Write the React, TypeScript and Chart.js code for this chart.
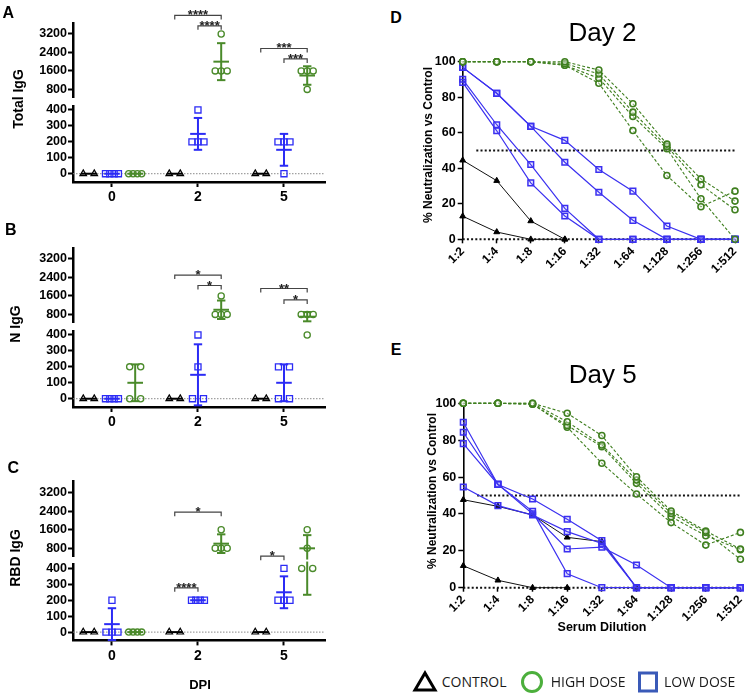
import React, { useEffect, useRef } from 'react';
import { Chart, registerables } from 'chart.js';
Chart.register(...registerables);

const FONT = "'Liberation Sans', Arial, Helvetica, sans-serif";
const BLUE = '#2b2bf5';
const GREEN = '#4a8a2a';
const LINE_BLUE = '#3b30f0';
const LINE_GREEN = '#3f7f1f';

// ---------- Panels A-C data ----------
const DPI_LABELS = ['0', '2', '5'];
const UPPER_TICKS = [800, 1600, 2400, 3200];
const LOWER_TICKS = [0, 100, 200, 300, 400];

const totalIgGControl = [[0, 0], [0, 0], [0, 0]];
const totalIgGLow = [[0, 0, 0, 0], [400, 200, 200, 200], [200, 200, 200, 0]];
const totalIgGHigh = [[0, 0, 0, 0], [3200, 1600, 1600, 1600], [1600, 1600, 1600, 800]];

const nIgGControl = [[0, 0], [0, 0], [0, 0]];
const nIgGLow = [[0, 0, 0, 0], [400, 200, 0, 0], [200, 200, 0, 0]];
const nIgGHigh = [[200, 200, 0, 0], [1600, 800, 800, 800], [800, 800, 800, 400]];

const rbdIgGControl = [[0, 0], [0, 0], [0, 0]];
const rbdIgGLow = [[200, 0, 0, 0], [200, 200, 200, 200], [400, 200, 200, 200]];
const rbdIgGHigh = [[0, 0, 0, 0], [1600, 800, 800, 800], [1600, 800, 400, 400]];

type Sub = 'control' | 'low' | 'high';
type Bracket = { day: number; from: Sub; to: Sub; y: number; label: string };

const totalIgGBrackets: Bracket[] = [
  { day: 1, from: 'control', to: 'high', y: 4000, label: '****' },
  { day: 1, from: 'low', to: 'high', y: 3550, label: '****' },
  { day: 2, from: 'control', to: 'high', y: 2570, label: '***' },
  { day: 2, from: 'low', to: 'high', y: 2120, label: '***' },
];
const nIgGBrackets: Bracket[] = [
  { day: 1, from: 'control', to: 'high', y: 2500, label: '*' },
  { day: 1, from: 'low', to: 'high', y: 2050, label: '*' },
  { day: 2, from: 'control', to: 'high', y: 1920, label: '**' },
  { day: 2, from: 'low', to: 'high', y: 1425, label: '*' },
];
const rbdIgGBrackets: Bracket[] = [
  { day: 1, from: 'control', to: 'high', y: 2350, label: '*' },
  { day: 1, from: 'control', to: 'low', y: 278, label: '****' },
  { day: 2, from: 'control', to: 'low', y: 463, label: '*' },
];

// ---------- Panels D-E data ----------
const DILUTIONS = ['1:2', '1:4', '1:8', '1:16', '1:32', '1:64', '1:128', '1:256', '1:512'];
const NEUT_TICKS = [0, 20, 40, 60, 80, 100];
const REF_LINES = [{ y: 0, from: 0 }, { y: 50, from: 0.4 }];

const day2Control = [
  [44.5, 33, 10.3, 0],
  [13, 4.1, 0, 0],
];
const day2Low = [
  [96.8, 82.2, 63.6, 55.7, 39.3, 27.1, 7.5, 0, 0],
  [96.8, 82.2, 63.6, 43.4, 26.5, 10.7, 0, 0, 0],
  [90.1, 64.5, 42.1, 17.4, 0, 0, 0, 0, 0],
  [88.4, 61.1, 31.8, 13.1, 0, 0, 0, 0, 0],
];
const day2High = [
  [100, 100, 100, 100, 95.3, 76.3, 53.6, 34, 21.5],
  [100, 100, 100, 99, 93.1, 71.6, 52.3, 30.7, 16.6],
  [100, 100, 100, 98, 90.7, 69.2, 51, 22.8, 0],
  [100, 100, 100, 98, 87.9, 61.3, 35.9, 18.3, 27.1],
];

const day5Control = [
  [47.7, 44.1, 39.5, 27.3, 25, 0],
  [11.9, 4, 0, 0],
];
const day5Low = [
  [89.7, 56, 41.4, 7.6, 0, 0, 0, 0, 0],
  [84.3, 56, 40.1, 21, 22, 12.3, 0, 0, 0],
  [78.1, 56, 48.1, 37.1, 25.5, 0, 0, 0, 0],
  [54.6, 44.5, 39.4, 30.4, 24, 0, 0, 0, 0],
];
const day5High = [
  [100, 100, 100, 94.6, 82.5, 60.2, 41.6, 30.7, 21],
  [100, 100, 100, 90, 77.4, 58.4, 40.3, 30, 15.4],
  [100, 100, 99.5, 88, 76.5, 56.6, 38.5, 28.2, 20.6],
  [100, 100, 99.5, 87, 67.5, 50.8, 35.3, 23.1, 30],
];

// ---------- layout constants ----------
const AC = {
  canvasW: 340, axisLeft: 73, right: 325, upperH: 77, gap: 5.7, lowerH: 76, xH: 26,
  xMin: -0.453, xMax: 2.477, upperMin: 440, upperMax: 3660, lowerMin: -52, lowerMax: 425,
};
const UNIT_PX = (AC.right - AC.axisLeft) / (AC.xMax - AC.xMin);
const SUB_OFFSET: Record<Sub, number> = { control: -0.27, low: 0, high: 0.27 };
const SPREAD: Record<number, number> = { 1: 0, 2: 11, 3: 6, 4: 4.3 };
const SUBS: Sub[] = ['control', 'low', 'high'];
const SUB_STYLE: Record<Sub, { color: string; pointStyle: string; radius: number; width: number }> = {
  control: { color: '#000000', pointStyle: 'triangle', radius: 3.8, width: 1.2 },
  low: { color: BLUE, pointStyle: 'rect', radius: 4.3, width: 1.3 },
  high: { color: GREEN, pointStyle: 'circle', radius: 3.1, width: 1.3 },
};

function stats(vals: number[]) {
  const n = vals.length;
  const mean = vals.reduce((a, b) => a + b, 0) / n;
  const sd = n > 1 ? Math.sqrt(vals.reduce((a, b) => a + (b - mean) ** 2, 0) / (n - 1)) : 0;
  return { mean, sd };
}

function jitter(vals: number[], day: number, sub: Sub) {
  const counts = new Map<number, number>();
  vals.forEach((v) => counts.set(v, (counts.get(v) || 0) + 1));
  const seen = new Map<number, number>();
  return vals.map((v) => {
    const n = counts.get(v) as number;
    const k = seen.get(v) || 0;
    seen.set(v, k + 1);
    const sp = SPREAD[n] ?? 4;
    const offPx = (k - (n - 1) / 2) * sp;
    return { x: day + SUB_OFFSET[sub] + offPx / UNIT_PX, y: v };
  });
}

interface PanelDef {
  letter: string; yTitle: string;
  control: number[][]; low: number[][]; high: number[][];
  brackets: Bracket[];
  upperTop: number;
  letterPos: [number, number]; titlePos: [number, number];
  dpi?: boolean;
}

const PANELS: PanelDef[] = [
  { letter: 'A', yTitle: 'Total IgG', control: totalIgGControl, low: totalIgGLow, high: totalIgGHigh, brackets: totalIgGBrackets, upperTop: 23.3, letterPos: [8.2, 12.5], titlePos: [18, 99.2] },
  { letter: 'B', yTitle: 'N IgG', control: nIgGControl, low: nIgGLow, high: nIgGHigh, brackets: nIgGBrackets, upperTop: 248.3, letterPos: [10.8, 230], titlePos: [14.5, 324.2] },
  { letter: 'C', yTitle: 'RBD IgG', control: rbdIgGControl, low: rbdIgGLow, high: rbdIgGHigh, brackets: rbdIgGBrackets, upperTop: 481.7, letterPos: [13.3, 468.3], titlePos: [14.5, 558.3], dpi: true },
];

function ChartCanvas({ left, top, width, height, build }: { left: number; top: number; width: number; height: number; build: () => any }) {
  const ref = useRef<HTMLCanvasElement>(null);
  useEffect(() => {
    const chart = new Chart(ref.current as HTMLCanvasElement, build());
    return () => chart.destroy();
  }, []);
  return (
    <canvas ref={ref} width={width} height={height}
      style={{ position: 'absolute', left, top, width, height }} />
  );
}

const tickFont = (size: number) => ({ family: FONT, size, weight: 'bold' as const });

function scatterConfig(p: PanelDef, part: 'upper' | 'lower', padTop: number, padBottom: number) {
  const isUpper = part === 'upper';
  const yMin = isUpper ? AC.upperMin : AC.lowerMin;
  const yMax = isUpper ? AC.upperMax : AC.lowerMax;
  const ticks = isUpper ? UPPER_TICKS : LOWER_TICKS;
  const groups: Record<Sub, number[][]> = { control: p.control, low: p.low, high: p.high };
  const datasets = SUBS.map((sub) => {
    const st = SUB_STYLE[sub];
    const pts = groups[sub]
      .flatMap((vals, day) => jitter(vals, day, sub))
      .filter((pt) => (isUpper ? pt.y > AC.lowerMax : pt.y <= AC.lowerMax));
    return {
      data: pts, pointStyle: st.pointStyle, pointRadius: st.radius,
      pointBorderColor: st.color, pointBackgroundColor: 'rgba(0,0,0,0)',
      pointBorderWidth: st.width, showLine: false, clip: false,
    };
  });
  const half = AC.gap / 2;
  const zeroLine = {
    id: 'zeroLine',
    beforeDatasetsDraw(chart: any) {
      if (isUpper) return;
      const { ctx, chartArea, scales } = chart;
      const y = scales.y.getPixelForValue(0);
      ctx.save();
      ctx.strokeStyle = '#8a8a8a';
      ctx.lineWidth = 1;
      ctx.setLineDash([1.5, 1.5]);
      ctx.beginPath();
      ctx.moveTo(chartArea.left, y);
      ctx.lineTo(chartArea.right, y);
      ctx.stroke();
      ctx.restore();
    },
  };
  const meanSd = {
    id: 'meanSd',
    afterDatasetsDraw(chart: any) {
      const { ctx, chartArea, scales } = chart;
      const xs = scales.x, ys = scales.y;
      ctx.save();
      ctx.lineWidth = 2;
      SUBS.forEach((sub) => {
        ctx.strokeStyle = SUB_STYLE[sub].color;
        groups[sub].forEach((vals, day) => {
          const { mean, sd } = stats(vals);
          const px = xs.getPixelForValue(day + SUB_OFFSET[sub]);
          if (mean >= yMin && mean <= yMax) {
            const py = ys.getPixelForValue(mean);
            ctx.beginPath(); ctx.moveTo(px - 7.8, py); ctx.lineTo(px + 7.8, py); ctx.stroke();
          }
          if (sd > 0) {
            const lo = mean - sd, hi = mean + sd;
            if (Math.max(lo, yMin) < Math.min(hi, yMax)) {
              const yTop = hi > yMax ? chartArea.top - half : ys.getPixelForValue(hi);
              const yBot = lo < yMin ? chartArea.bottom + half : ys.getPixelForValue(lo);
              ctx.beginPath(); ctx.moveTo(px, yTop); ctx.lineTo(px, yBot); ctx.stroke();
              if (hi <= yMax) { ctx.beginPath(); ctx.moveTo(px - 4.2, yTop); ctx.lineTo(px + 4.2, yTop); ctx.stroke(); }
              if (lo >= yMin) { ctx.beginPath(); ctx.moveTo(px - 4.2, yBot); ctx.lineTo(px + 4.2, yBot); ctx.stroke(); }
            }
          }
        });
      });
      ctx.restore();
    },
  };
  const brackets = {
    id: 'brackets',
    afterDatasetsDraw(chart: any) {
      const { ctx, scales } = chart;
      ctx.save();
      ctx.strokeStyle = '#444';
      ctx.fillStyle = '#222';
      ctx.lineWidth = 1.2;
      ctx.font = `bold 13px ${FONT}`;
      ctx.textAlign = 'center';
      ctx.textBaseline = 'alphabetic';
      p.brackets
        .filter((b) => (isUpper ? b.y >= AC.upperMin : b.y < AC.upperMin))
        .forEach((b) => {
          const y = scales.y.getPixelForValue(b.y);
          const x1 = scales.x.getPixelForValue(b.day + SUB_OFFSET[b.from]);
          const x2 = scales.x.getPixelForValue(b.day + SUB_OFFSET[b.to]);
          ctx.beginPath();
          ctx.moveTo(x1, y + 4); ctx.lineTo(x1, y); ctx.lineTo(x2, y); ctx.lineTo(x2, y + 4);
          ctx.stroke();
          ctx.fillText(b.label, (x1 + x2) / 2, y + 4);
        });
      ctx.restore();
    },
  };
  return {
    type: 'scatter',
    data: { datasets },
    options: {
      responsive: false, maintainAspectRatio: false, animation: false, events: [],
      layout: { padding: { left: 0, right: AC.canvasW - AC.right, top: padTop, bottom: padBottom } },
      plugins: { legend: { display: false }, tooltip: { enabled: false } },
      scales: {
        x: {
          type: 'linear', min: AC.xMin, max: AC.xMax, display: !isUpper,
          afterFit: (s: any) => { s.height = isUpper ? 0 : AC.xH; s.paddingLeft = 0; s.paddingRight = 0; },
          afterBuildTicks: (s: any) => { s.ticks = DPI_LABELS.map((_, i) => ({ value: i })); },
          ticks: { callback: (v: any) => DPI_LABELS[Math.round(v)], font: tickFont(14), color: '#000', padding: 2, maxRotation: 0, autoSkip: false },
          grid: { display: true, drawOnChartArea: false, drawTicks: true, tickLength: 5, tickWidth: 2, tickColor: '#000' },
          border: { display: true, width: 2.5, color: '#000' },
        },
        y: {
          type: 'linear', min: yMin, max: yMax,
          afterFit: (s: any) => { s.width = AC.axisLeft; s.paddingTop = 0; s.paddingBottom = 0; },
          afterBuildTicks: (s: any) => { s.ticks = ticks.map((v) => ({ value: v })); },
          ticks: { callback: (v: any) => String(v), font: tickFont(12.5), color: '#000', padding: 1, autoSkip: false },
          grid: { display: true, drawOnChartArea: false, drawTicks: true, tickLength: 5, tickWidth: 2, tickColor: '#000' },
          border: { display: true, width: 2.5, color: '#000' },
        },
      },
    },
    plugins: [zeroLine, meanSd, brackets],
  };
}

function Txt({ x, y, text, size, bold, rotate, family, color }: { x: number; y: number; text: string; size: number; bold?: boolean; rotate?: number; family?: string; color?: string }) {
  return (
    <div style={{
      position: 'absolute', left: x, top: y, transform: `translate(-50%, -50%) rotate(${rotate || 0}deg)`,
      fontFamily: family || FONT, fontSize: size, fontWeight: bold ? 'bold' : 'normal', whiteSpace: 'nowrap',
      lineHeight: 1, color: color || '#000',
    }}>{text}</div>
  );
}

function ScatterPanel({ p }: { p: PanelDef }) {
  const upperTop = p.upperTop;
  const upperBottom = upperTop + AC.upperH;
  const lowerTop = upperBottom + AC.gap;
  const lowerBottom = lowerTop + AC.lowerH;
  const uTop = Math.max(0, Math.round(upperTop - 23));
  const uBottom = Math.round(upperBottom + AC.gap / 2);
  const lTop = Math.round(lowerTop - 32);
  const lH = Math.round(lowerBottom + AC.xH - lTop) + 1;
  return (
    <>
      <ChartCanvas left={0} top={uTop} width={AC.canvasW} height={uBottom - uTop}
        build={() => scatterConfig(p, 'upper', upperTop - uTop, uBottom - upperBottom)} />
      <ChartCanvas left={0} top={lTop} width={AC.canvasW} height={lH}
        build={() => scatterConfig(p, 'lower', lowerTop - lTop, lTop + lH - lowerBottom - AC.xH)} />
      <Txt x={p.letterPos[0]} y={p.letterPos[1]} text={p.letter} size={16} bold />
      <Txt x={p.titlePos[0]} y={p.titlePos[1]} text={p.yTitle} size={14} bold rotate={-90} />
      {p.dpi && <Txt x={200} y={684} text="DPI" size={13} bold />}
    </>
  );
}

interface NeutDef {
  letter: string; title: string;
  control: number[][]; low: number[][]; high: number[][];
  canvasLeft: number; canvasTop: number; areaLeft: number; areaRight: number; areaTop: number; areaBottom: number;
  letterPos: [number, number]; titlePos: [number, number]; yTitlePos: [number, number];
  xTitle?: string;
}

const NEUT_PANELS: NeutDef[] = [
  { letter: 'D', title: 'Day 2', control: day2Control, low: day2Low, high: day2High,
    canvasLeft: 414, canvasTop: 40, areaLeft: 462.7, areaRight: 735, areaTop: 61.7, areaBottom: 239.3,
    letterPos: [396, 17.5], titlePos: [602.5, 31.7], yTitlePos: [427.5, 145] },
  { letter: 'E', title: 'Day 5', control: day5Control, low: day5Low, high: day5High,
    canvasLeft: 414, canvasTop: 388, areaLeft: 463.3, areaRight: 740.7, areaTop: 403.3, areaBottom: 587.7,
    letterPos: [396, 349.7], titlePos: [602.7, 373.5], yTitlePos: [432, 490.8], xTitle: 'Serum Dilution' },
];

const NEUT_XH = 40;

function neutConfig(d: NeutDef, canvasW: number, canvasH: number) {
  const mk = (rows: number[][], kind: Sub) => rows.map((row) => {
    if (kind === 'high') return {
      data: row, borderColor: LINE_GREEN, borderWidth: 1.1, borderDash: [3, 2],
      pointStyle: 'circle', pointRadius: 3, pointBorderWidth: 1.6,
      pointBorderColor: LINE_GREEN, pointBackgroundColor: 'rgba(255,255,255,0.4)', order: 0, clip: false, tension: 0,
    };
    if (kind === 'low') return {
      data: row, borderColor: LINE_BLUE, borderWidth: 1.2,
      pointStyle: 'rect', pointRadius: 4, pointBorderWidth: 1.5,
      pointBorderColor: LINE_BLUE, pointBackgroundColor: 'rgba(110,100,255,0.15)', order: 1, clip: false, tension: 0,
    };
    return {
      data: row, borderColor: '#111', borderWidth: 1,
      pointStyle: 'triangle', pointRadius: 3.4, pointBorderWidth: 1,
      pointBorderColor: '#000', pointBackgroundColor: '#000', order: 2, clip: false, tension: 0,
    };
  });
  const refLines = {
    id: 'refLines',
    beforeDatasetsDraw(chart: any) {
      const { ctx, chartArea, scales } = chart;
      ctx.save();
      ctx.strokeStyle = '#111';
      ctx.lineWidth = 2;
      ctx.setLineDash([2, 2.2]);
      REF_LINES.forEach((r) => {
        const y = scales.y.getPixelForValue(r.y);
        ctx.beginPath();
        ctx.moveTo(scales.x.getPixelForValue(r.from), y);
        ctx.lineTo(chartArea.right, y);
        ctx.stroke();
      });
      ctx.restore();
    },
  };
  const padTop = d.areaTop - d.canvasTop;
  const padBottom = d.canvasTop + canvasH - d.areaBottom - NEUT_XH;
  return {
    type: 'line',
    data: { labels: DILUTIONS, datasets: [...mk(d.high, 'high'), ...mk(d.low, 'low'), ...mk(d.control, 'control')] },
    options: {
      responsive: false, maintainAspectRatio: false, animation: false, events: [],
      layout: { padding: { left: 0, right: d.canvasLeft + canvasW - d.areaRight, top: padTop, bottom: padBottom } },
      plugins: { legend: { display: false }, tooltip: { enabled: false } },
      scales: {
        x: {
          type: 'category', offset: false,
          afterFit: (s: any) => { s.height = NEUT_XH; s.paddingLeft = 0; s.paddingRight = 0; },
          ticks: { font: tickFont(12), color: '#000', padding: 1, minRotation: 45, maxRotation: 45, autoSkip: false },
          grid: { display: true, drawOnChartArea: false, drawTicks: true, tickLength: 4, tickWidth: 1.5, tickColor: '#000' },
          border: { display: false },
        },
        y: {
          type: 'linear', min: 0, max: 100,
          afterFit: (s: any) => { s.width = d.areaLeft - d.canvasLeft; s.paddingTop = 0; s.paddingBottom = 0; },
          afterBuildTicks: (s: any) => { s.ticks = NEUT_TICKS.map((v) => ({ value: v })); },
          ticks: { callback: (v: any) => String(v), font: tickFont(12.5), color: '#000', padding: 2, autoSkip: false },
          grid: { display: true, drawOnChartArea: false, drawTicks: true, tickLength: 5, tickWidth: 1.5, tickColor: '#000' },
          border: { display: true, width: 1.6, color: '#000' },
        },
      },
    },
    plugins: [refLines],
  };
}

function NeutPanel({ d }: { d: NeutDef }) {
  const w = 746 - d.canvasLeft;
  const h = Math.round(d.areaBottom + NEUT_XH - d.canvasTop) + 1;
  return (
    <>
      <ChartCanvas left={d.canvasLeft} top={d.canvasTop} width={w} height={h} build={() => neutConfig(d, w, h)} />
      <Txt x={d.letterPos[0]} y={d.letterPos[1]} text={d.letter} size={16} bold />
      <Txt x={d.titlePos[0]} y={d.titlePos[1]} text={d.title} size={26} />
      <Txt x={d.yTitlePos[0]} y={d.yTitlePos[1]} text="% Neutralization vs Control" size={12} bold rotate={-90} />
      {d.xTitle && <Txt x={602} y={627} text={d.xTitle} size={12.5} bold />}
    </>
  );
}

const LEGEND_ITEMS = [
  { label: 'CONTROL', shape: 'triangle', color: '#000000', sx: 425, tx: 441.7 },
  { label: 'HIGH DOSE', shape: 'circle', color: '#4caf3c', sx: 531.7, tx: 550.7 },
  { label: 'LOW DOSE', shape: 'square', color: '#3a5ab8', sx: 648, tx: 664 },
];

function Legend() {
  const cy = 681.7;
  return (
    <>
      {LEGEND_ITEMS.map((it) => (
        <React.Fragment key={it.label}>
          <svg width={26} height={26} style={{ position: 'absolute', left: it.sx - 13, top: cy - 13 }}>
            {it.shape === 'triangle' && <polygon points="13,4 23,21 3,21" fill="none" stroke={it.color} strokeWidth={3} strokeLinejoin="miter" />}
            {it.shape === 'circle' && <circle cx={13} cy={13} r={9.5} fill="none" stroke={it.color} strokeWidth={3} />}
            {it.shape === 'square' && <rect x={4.5} y={4} width={17} height={18} fill="none" stroke={it.color} strokeWidth={3} />}
          </svg>
          <div style={{ position: 'absolute', left: it.tx, top: cy, transform: 'translateY(-50%)', fontFamily: "'Open Sans', sans-serif", fontSize: 14, lineHeight: 1, whiteSpace: 'nowrap', color: '#1a1a1a' }}>{it.label}</div>
        </React.Fragment>
      ))}
    </>
  );
}

export default function App() {
  return (
    <div style={{ position: 'absolute', left: 0, top: 0, width: 746, height: 700, background: '#fff', overflow: 'hidden' }}>
      {PANELS.map((p) => <ScatterPanel key={p.letter} p={p} />)}
      {NEUT_PANELS.map((d) => <NeutPanel key={d.letter} d={d} />)}
      <Legend />
    </div>
  );
}
